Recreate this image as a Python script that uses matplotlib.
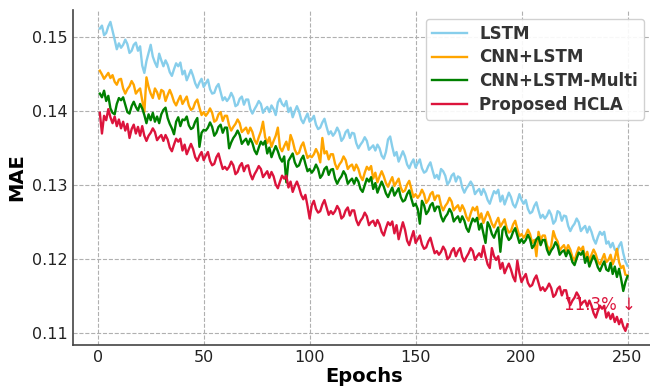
import matplotlib
matplotlib.use("Agg")
import matplotlib.pyplot as plt

epochs = list(range(1, 251))

lstm = [
    0.1512, 0.1516, 0.1503, 0.1506, 0.1515, 0.1521, 0.1509, 0.1497, 0.1484, 0.1492,
    0.1486, 0.1490, 0.1497, 0.1491, 0.1479, 0.1482, 0.1490, 0.1493, 0.1482, 0.1488,
    0.1462, 0.1452, 0.1468, 0.1479, 0.1490, 0.1474, 0.1466, 0.1460, 0.1478, 0.1469,
    0.1461, 0.1469, 0.1463, 0.1453, 0.1448, 0.1457, 0.1465, 0.1461, 0.1466, 0.1450,
    0.1455, 0.1442, 0.1449, 0.1456, 0.1448, 0.1438, 0.1432, 0.1439, 0.1444, 0.1433,
    0.1438, 0.1443, 0.1430, 0.1424, 0.1425, 0.1433, 0.1437, 0.1426, 0.1415, 0.1419,
    0.1414, 0.1418, 0.1425, 0.1419, 0.1407, 0.1409, 0.1417, 0.1420, 0.1409, 0.1416,
    0.1416, 0.1403, 0.1397, 0.1403, 0.1408, 0.1414, 0.1410, 0.1398, 0.1403, 0.1406,
    0.1399, 0.1408, 0.1403, 0.1395, 0.1412, 0.1417, 0.1410, 0.1407, 0.1414, 0.1399,
    0.1405, 0.1392, 0.1400, 0.1407, 0.1400, 0.1389, 0.1384, 0.1391, 0.1397, 0.1386,
    0.1389, 0.1394, 0.1382, 0.1376, 0.1378, 0.1385, 0.1390, 0.1379, 0.1369, 0.1373,
    0.1367, 0.1371, 0.1378, 0.1372, 0.1360, 0.1364, 0.1372, 0.1375, 0.1364, 0.1371,
    0.1370, 0.1357, 0.1350, 0.1355, 0.1359, 0.1365, 0.1360, 0.1348, 0.1351, 0.1354,
    0.1347, 0.1355, 0.1350, 0.1340, 0.1336, 0.1345, 0.1362, 0.1366, 0.1352, 0.1340,
    0.1345, 0.1332, 0.1339, 0.1346, 0.1339, 0.1328, 0.1323, 0.1330, 0.1335, 0.1324,
    0.1330, 0.1335, 0.1323, 0.1317, 0.1319, 0.1326, 0.1331, 0.1320, 0.1310, 0.1314,
    0.1308, 0.1322, 0.1319, 0.1313, 0.1301, 0.1305, 0.1313, 0.1316, 0.1305, 0.1312,
    0.1310, 0.1297, 0.1290, 0.1296, 0.1300, 0.1305, 0.1300, 0.1288, 0.1292, 0.1295,
    0.1287, 0.1295, 0.1289, 0.1280, 0.1275, 0.1284, 0.1292, 0.1289, 0.1294, 0.1278,
    0.1286, 0.1274, 0.1282, 0.1290, 0.1284, 0.1274, 0.1270, 0.1278, 0.1288, 0.1280,
    0.1275, 0.1280, 0.1268, 0.1262, 0.1264, 0.1272, 0.1277, 0.1266, 0.1256, 0.1260,
    0.1255, 0.1259, 0.1266, 0.1260, 0.1248, 0.1252, 0.1265, 0.1263, 0.1252, 0.1259,
    0.1258, 0.1245, 0.1238, 0.1244, 0.1248, 0.1255, 0.1250, 0.1238, 0.1242, 0.1245,
    0.1236, 0.1244, 0.1237, 0.1227, 0.1221, 0.1230, 0.1237, 0.1233, 0.1237, 0.1221,
    0.1224, 0.1216, 0.1222, 0.1213, 0.1210, 0.1218, 0.1223, 0.1208, 0.1197, 0.1191,
]

cnn_lstm = [
    0.1455, 0.1450, 0.1444, 0.1448, 0.1452, 0.1445, 0.1449, 0.1440, 0.1436, 0.1443,
    0.1444, 0.1431, 0.1424, 0.1430, 0.1434, 0.1441, 0.1436, 0.1424, 0.1428, 0.1431,
    0.1415, 0.1399, 0.1446, 0.1433, 0.1424, 0.1418, 0.1431, 0.1426, 0.1417, 0.1429,
    0.1427, 0.1414, 0.1422, 0.1429, 0.1422, 0.1413, 0.1408, 0.1415, 0.1421, 0.1410,
    0.1415, 0.1420, 0.1408, 0.1402, 0.1404, 0.1412, 0.1416, 0.1405, 0.1395, 0.1399,
    0.1394, 0.1398, 0.1404, 0.1398, 0.1386, 0.1388, 0.1396, 0.1399, 0.1387, 0.1394,
    0.1394, 0.1381, 0.1374, 0.1379, 0.1383, 0.1389, 0.1384, 0.1372, 0.1375, 0.1378,
    0.1370, 0.1378, 0.1372, 0.1361, 0.1356, 0.1365, 0.1373, 0.1386, 0.1365, 0.1357,
    0.1365, 0.1352, 0.1360, 0.1367, 0.1378, 0.1351, 0.1346, 0.1353, 0.1359, 0.1348,
    0.1368, 0.1360, 0.1348, 0.1342, 0.1344, 0.1353, 0.1358, 0.1347, 0.1337, 0.1340,
    0.1338, 0.1342, 0.1349, 0.1343, 0.1331, 0.1364, 0.1343, 0.1346, 0.1335, 0.1342,
    0.1342, 0.1329, 0.1322, 0.1328, 0.1332, 0.1339, 0.1334, 0.1322, 0.1326, 0.1328,
    0.1320, 0.1328, 0.1322, 0.1312, 0.1307, 0.1317, 0.1325, 0.1321, 0.1326, 0.1309,
    0.1317, 0.1304, 0.1312, 0.1319, 0.1312, 0.1303, 0.1298, 0.1305, 0.1311, 0.1299,
    0.1304, 0.1309, 0.1297, 0.1291, 0.1293, 0.1301, 0.1306, 0.1295, 0.1284, 0.1288,
    0.1283, 0.1287, 0.1294, 0.1288, 0.1276, 0.1280, 0.1288, 0.1291, 0.1280, 0.1286,
    0.1286, 0.1273, 0.1266, 0.1272, 0.1276, 0.1283, 0.1278, 0.1266, 0.1270, 0.1273,
    0.1265, 0.1273, 0.1267, 0.1257, 0.1252, 0.1262, 0.1270, 0.1266, 0.1271, 0.1254,
    0.1262, 0.1249, 0.1257, 0.1264, 0.1257, 0.1248, 0.1243, 0.1250, 0.1256, 0.1244,
    0.1249, 0.1254, 0.1242, 0.1236, 0.1238, 0.1247, 0.1252, 0.1241, 0.1231, 0.1234,
    0.1229, 0.1233, 0.1240, 0.1234, 0.1222, 0.1226, 0.1204, 0.1237, 0.1226, 0.1232,
    0.1232, 0.1219, 0.1212, 0.1218, 0.1238, 0.1229, 0.1224, 0.1212, 0.1216, 0.1219,
    0.1211, 0.1219, 0.1213, 0.1203, 0.1198, 0.1208, 0.1216, 0.1212, 0.1217, 0.1201,
    0.1210, 0.1197, 0.1206, 0.1213, 0.1207, 0.1197, 0.1193, 0.1200, 0.1207, 0.1196,
    0.1199, 0.1206, 0.1193, 0.1201, 0.1214, 0.1196, 0.1188, 0.1191, 0.1179, 0.1178,
]

cnn_lstm_multi = [
    0.1424, 0.1419, 0.1428, 0.1414, 0.1421, 0.1404, 0.1398, 0.1396, 0.1410, 0.1418,
    0.1415, 0.1419, 0.1409, 0.1399, 0.1397, 0.1407, 0.1413, 0.1406, 0.1401, 0.1410,
    0.1404, 0.1395, 0.1384, 0.1396, 0.1388, 0.1398, 0.1386, 0.1393, 0.1384, 0.1396,
    0.1402, 0.1405, 0.1391, 0.1383, 0.1377, 0.1369, 0.1386, 0.1392, 0.1380, 0.1389,
    0.1388, 0.1393, 0.1381, 0.1376, 0.1378, 0.1386, 0.1391, 0.1352, 0.1371, 0.1375,
    0.1374, 0.1378, 0.1385, 0.1379, 0.1367, 0.1371, 0.1379, 0.1382, 0.1371, 0.1378,
    0.1378, 0.1350, 0.1358, 0.1364, 0.1368, 0.1374, 0.1368, 0.1356, 0.1360, 0.1363,
    0.1355, 0.1363, 0.1357, 0.1347, 0.1342, 0.1351, 0.1359, 0.1355, 0.1360, 0.1343,
    0.1351, 0.1338, 0.1346, 0.1353, 0.1346, 0.1337, 0.1332, 0.1339, 0.1304, 0.1333,
    0.1338, 0.1343, 0.1331, 0.1325, 0.1327, 0.1335, 0.1340, 0.1329, 0.1319, 0.1322,
    0.1317, 0.1321, 0.1328, 0.1322, 0.1310, 0.1314, 0.1322, 0.1325, 0.1314, 0.1321,
    0.1322, 0.1309, 0.1302, 0.1308, 0.1312, 0.1319, 0.1314, 0.1302, 0.1306, 0.1309,
    0.1302, 0.1310, 0.1305, 0.1295, 0.1291, 0.1300, 0.1309, 0.1305, 0.1311, 0.1295,
    0.1303, 0.1290, 0.1298, 0.1305, 0.1298, 0.1289, 0.1284, 0.1291, 0.1297, 0.1286,
    0.1291, 0.1296, 0.1284, 0.1278, 0.1280, 0.1288, 0.1293, 0.1282, 0.1272, 0.1275,
    0.1268, 0.1248, 0.1279, 0.1273, 0.1261, 0.1265, 0.1273, 0.1276, 0.1265, 0.1271,
    0.1271, 0.1258, 0.1251, 0.1257, 0.1261, 0.1268, 0.1263, 0.1251, 0.1255, 0.1258,
    0.1250, 0.1258, 0.1252, 0.1242, 0.1237, 0.1247, 0.1255, 0.1251, 0.1256, 0.1240,
    0.1248, 0.1235, 0.1222, 0.1250, 0.1244, 0.1234, 0.1229, 0.1237, 0.1243, 0.1210,
    0.1239, 0.1244, 0.1232, 0.1226, 0.1229, 0.1237, 0.1242, 0.1232, 0.1222, 0.1227,
    0.1222, 0.1226, 0.1233, 0.1227, 0.1215, 0.1219, 0.1227, 0.1230, 0.1219, 0.1226,
    0.1226, 0.1213, 0.1206, 0.1212, 0.1216, 0.1223, 0.1218, 0.1206, 0.1210, 0.1212,
    0.1204, 0.1212, 0.1206, 0.1196, 0.1192, 0.1201, 0.1209, 0.1206, 0.1211, 0.1195,
    0.1203, 0.1190, 0.1198, 0.1205, 0.1198, 0.1189, 0.1184, 0.1191, 0.1197, 0.1186,
    0.1184, 0.1195, 0.1180, 0.1190, 0.1176, 0.1187, 0.1173, 0.1157, 0.1169, 0.1177,
]

hcla = [
    0.1398, 0.1370, 0.1394, 0.1388, 0.1403, 0.1392, 0.1384, 0.1393, 0.1380, 0.1389,
    0.1377, 0.1386, 0.1374, 0.1383, 0.1364, 0.1376, 0.1382, 0.1370, 0.1379, 0.1367,
    0.1380, 0.1367, 0.1360, 0.1367, 0.1371, 0.1377, 0.1372, 0.1361, 0.1365, 0.1368,
    0.1360, 0.1368, 0.1362, 0.1351, 0.1346, 0.1355, 0.1363, 0.1359, 0.1363, 0.1347,
    0.1355, 0.1342, 0.1349, 0.1356, 0.1349, 0.1338, 0.1333, 0.1340, 0.1345, 0.1334,
    0.1340, 0.1345, 0.1333, 0.1327, 0.1329, 0.1338, 0.1343, 0.1332, 0.1322, 0.1325,
    0.1321, 0.1325, 0.1332, 0.1327, 0.1315, 0.1318, 0.1326, 0.1330, 0.1319, 0.1326,
    0.1327, 0.1315, 0.1308, 0.1315, 0.1320, 0.1326, 0.1322, 0.1311, 0.1315, 0.1319,
    0.1310, 0.1318, 0.1312, 0.1301, 0.1296, 0.1305, 0.1313, 0.1309, 0.1313, 0.1297,
    0.1305, 0.1291, 0.1299, 0.1305, 0.1297, 0.1287, 0.1281, 0.1287, 0.1272, 0.1255,
    0.1273, 0.1279, 0.1268, 0.1263, 0.1265, 0.1274, 0.1280, 0.1270, 0.1260, 0.1265,
    0.1261, 0.1265, 0.1272, 0.1267, 0.1255, 0.1258, 0.1266, 0.1270, 0.1259, 0.1266,
    0.1266, 0.1253, 0.1246, 0.1252, 0.1256, 0.1263, 0.1258, 0.1246, 0.1250, 0.1252,
    0.1245, 0.1253, 0.1247, 0.1237, 0.1232, 0.1242, 0.1250, 0.1246, 0.1251, 0.1235,
    0.1246, 0.1227, 0.1239, 0.1250, 0.1240, 0.1225, 0.1219, 0.1229, 0.1238, 0.1222,
    0.1227, 0.1232, 0.1220, 0.1214, 0.1216, 0.1224, 0.1229, 0.1218, 0.1208, 0.1211,
    0.1206, 0.1210, 0.1217, 0.1212, 0.1200, 0.1203, 0.1211, 0.1215, 0.1204, 0.1211,
    0.1215, 0.1203, 0.1197, 0.1203, 0.1208, 0.1215, 0.1211, 0.1199, 0.1204, 0.1208,
    0.1203, 0.1218, 0.1204, 0.1193, 0.1188, 0.1215, 0.1204, 0.1199, 0.1204, 0.1187,
    0.1195, 0.1181, 0.1188, 0.1194, 0.1186, 0.1176, 0.1170, 0.1198, 0.1181, 0.1169,
    0.1175, 0.1180, 0.1168, 0.1163, 0.1165, 0.1173, 0.1178, 0.1168, 0.1158, 0.1162,
    0.1157, 0.1161, 0.1167, 0.1161, 0.1149, 0.1152, 0.1160, 0.1163, 0.1151, 0.1158,
    0.1158, 0.1145, 0.1138, 0.1144, 0.1148, 0.1155, 0.1150, 0.1138, 0.1142, 0.1144,
    0.1136, 0.1144, 0.1137, 0.1127, 0.1121, 0.1130, 0.1137, 0.1133, 0.1137, 0.1121,
    0.1128, 0.1119, 0.1126, 0.1115, 0.1122, 0.1112, 0.1119, 0.1109, 0.1103, 0.1112,
]

series_labels = ["LSTM", "CNN+LSTM", "CNN+LSTM-Multi", "Proposed HCLA"]
series_colors = ["#87CEEB", "#FFA500", "#008000", "#DC143C"]
annotation_text = "11.3% \u2193"
annotation_epoch = 237
annotation_value = 0.1138

fig = plt.figure(figsize=(6.5, 3.88), dpi=100)
ax = fig.add_axes([0.113, 0.111, 0.893, 0.863])

for vals, lab, col in zip([lstm, cnn_lstm, cnn_lstm_multi, hcla], series_labels, series_colors):
    ax.plot(epochs, vals, color=col, lw=1.7, label=lab)

ax.set_xlim(-11.45, 262.45)
ax.set_ylim(0.1084, 0.1537)
ax.set_xticks([0, 50, 100, 150, 200, 250])
ax.set_yticks([0.11, 0.12, 0.13, 0.14, 0.15])
ax.grid(True, linestyle="--", color="#b0b0b0", lw=0.8)
ax.set_axisbelow(True)
for s in ["top", "right"]:
    ax.spines[s].set_visible(False)
for s in ["left", "bottom"]:
    ax.spines[s].set_color("#444444")
    ax.spines[s].set_linewidth(1.2)
ax.tick_params(length=0, pad=4, labelsize=11.5, colors="#222222")

ax.set_xlabel("Epochs", fontsize=14, fontweight="bold", labelpad=1)
ax.set_ylabel("MAE", fontsize=14, fontweight="bold", labelpad=4)

ax.text(annotation_epoch, annotation_value, annotation_text, color="#DC143C",
        fontsize=12, ha="center", va="center")

leg = ax.legend(loc="upper right", bbox_to_anchor=(644 / 650, 1 - 19 / 388),
                bbox_transform=fig.transFigure, borderaxespad=0,
                prop={"weight": "bold", "size": 12},
                frameon=True, fancybox=True, framealpha=0.9, edgecolor="#cccccc",
                borderpad=0.35, labelspacing=0.34, handlelength=2.1, handletextpad=0.75)
for t in leg.get_texts():
    t.set_color("#333333")

fig.savefig("out.png", dpi=100)
